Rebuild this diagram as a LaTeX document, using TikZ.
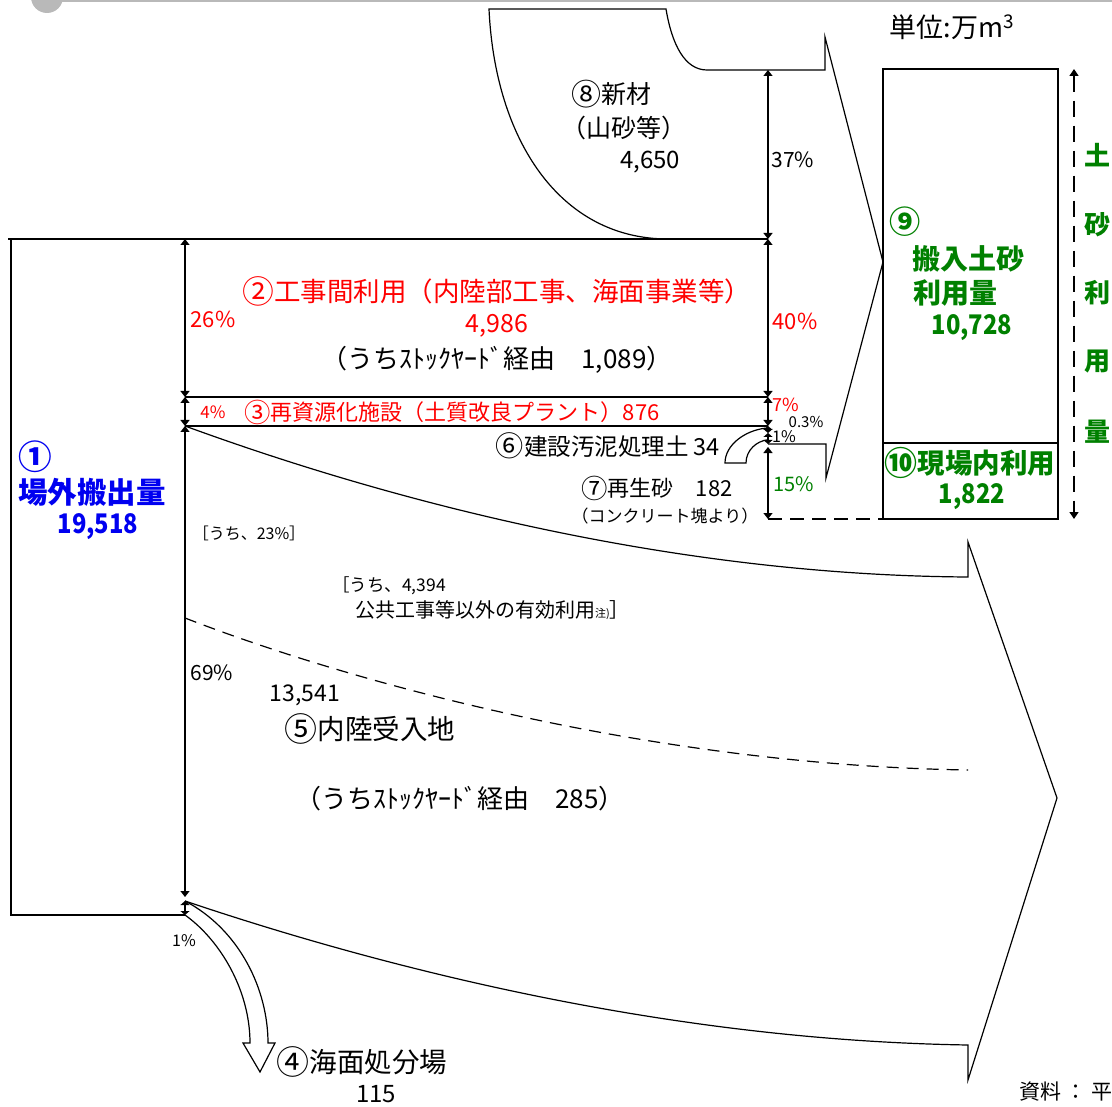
\documentclass[tikz,border=0pt]{standalone}
\usepackage{fontspec}
\usepackage{graphicx}
\setmainfont{Noto Sans CJK JP}
\usetikzlibrary{arrows.meta}
\definecolor{jred}{RGB}{255,0,0}
\definecolor{jblue}{RGB}{0,0,240}
\definecolor{jgreen}{RGB}{0,128,0}
\definecolor{jgray}{RGB}{185,185,185}
\newcommand\fsz[1]{\fontsize{#1}{#1}\selectfont}
\newcommand\cnum[1]{\raisebox{-0.07em}{\scalebox{1.2}{#1}}}
\newcommand\bnum[1]{\scalebox{0.88}[1]{#1}}
\tikzset{
  ln/.style={line width=1.2pt, line join=miter},
  dim/.style={line width=1.2pt, {Triangle[width=9pt,length=6pt]}-{Triangle[width=9pt,length=6pt]}},
  dimsm/.style={line width=1.2pt, {Triangle[width=9pt,length=4pt]}-{Triangle[width=9pt,length=4pt]}},
  dsh/.style={line width=1.4pt, dash pattern=on 14pt off 8pt},
  lbl/.style={inner sep=0pt, outer sep=0pt},
}
\begin{document}
\begin{tikzpicture}[x=1pt,y=-1pt]
\useasboundingbox (0,0) rectangle (1112,1107);
% decoration at top
\fill[jgray] (47,-3) circle (16);
\draw[jgray, line width=3pt] (60,1) -- (1112,1);
% named coordinates
\coordinate (a0) at (185,239);
\coordinate (a1) at (185,397);
\coordinate (a2) at (185,426);
\coordinate (a3) at (185,897);
\coordinate (a4) at (185,901);
\coordinate (a5) at (185,915);
\coordinate (b0) at (768,70);
\coordinate (b1) at (768,239);
\coordinate (b2) at (768,397);
\coordinate (b3) at (768,426);
\coordinate (b4) at (768,433);
\coordinate (b5) at (768,444);
\coordinate (b6) at (768,447);
\coordinate (b7) at (768,519);
\coordinate (c0) at (1074,69);
\coordinate (c1) at (1074,519);
% box 1 (off-site)
\draw[ln] (8,239) -- (b1);
\draw[ln] (11,239) -- (11,915) -- (a5);
% bands 2 and 3
\draw[ln] (a1) -- (b2);
\draw[ln] (a2) -- (b3);
% new material shape (8) and arrow into box 9
\draw[ln] (668,239) .. controls (560,239) and (495,140) .. (489,9) -- (666,9)
  .. controls (672,45) and (685,70) .. (707,70) -- (825,70) -- (825,37)
  -- (883,262) -- (826,478) -- (826,444) -- (b5);
% box 9 / 10
\draw[ln] (883,69) rectangle (1058,519);
\draw[ln] (883,443) -- (1058,443);
\draw[dsh] (b7) -- (883,519);
\draw[dsh, dash pattern=on 16pt off 9pt, {Triangle[width=9pt,length=7pt]}-{Triangle[width=9pt,length=7pt]}] (c0) -- (c1);
% big arrow 5
\draw[ln] (a2) .. controls (360,490) and (650,575) .. (968,577) -- (968,542)
  -- (1057,798) -- (968,1080) -- (968,1045) .. controls (650,1040) and (360,960) .. (a4);
\draw[dsh, line width=1.2pt, dash pattern=on 12pt off 8pt] (185,618) .. controls (350,682) and (650,765) .. (968,770);
% arrow 4 (sea disposal)
\draw[ln] (a4) .. controls (240,930) and (268,990) .. (268,1043) -- (275,1043) -- (260,1072)
  -- (243,1043) -- (250,1043) .. controls (250,990) and (220,940) .. (a5);
% arrow 6 (sludge)
\draw[ln] (767,428) .. controls (745,430) and (725,445) .. (725,463) -- (746,463)
  .. controls (746,450) and (757,441) .. (767,440);
% dimension arrows
\draw[dim] (a0) -- (a1);
\draw[dim] (a1) -- (a2);
\draw[dim] (a2) -- (a3);
\draw[dimsm] (a4) -- (a5);
\draw[dim] (b0) -- (b1);
\draw[dim] (b1) -- (b2);
\draw[dim] (b2) -- (b3);
\draw[dimsm] (b3) -- (b4);
\draw[dimsm] (b4) -- (b5);
\draw[dim] (b6) -- (b7);
% labels
\node[lbl] (unit) at (952,27) {\fsz{27}単位:万m\textsuperscript{3}};
\node[lbl] (n8a) at (611,94) {\fsz{25}\cnum{⑧}新材};
\node[lbl] (n8b) at (624,128) {\fsz{25}（山砂等）};
\node[lbl] (n8c) at (650,162) {\fsz{24}4,650};
\node[lbl] (p37) at (793,160) {\fsz{21}37\%};
\node[lbl, text=jred] (n2a) at (497,291) {\fsz{26.5}\cnum{②}工事間利用（内陸部工事、海面事業等）};
\node[lbl, text=jred] (n2b) at (497,326) {\fsz{25}4,986};
\node[lbl] (n2c) at (497,360) {\fsz{26}（うちｽﾄｯｸﾔｰﾄﾞ経由　1,089）};
\node[lbl, text=jred] (p26) at (213,319) {\fsz{22}26\%};
\node[lbl, text=jred] (p40) at (795,321) {\fsz{22}40\%};
\node[lbl, text=jred] (p4) at (213,412) {\fsz{17}4\%};
\node[lbl, text=jred] (n3) at (452,412) {\fsz{22}\cnum{③}再資源化施設（土質改良プラント）876};
\node[lbl, text=jred] (p7) at (786,405) {\fsz{18}7\%};
\node[lbl] (p03) at (806,422) {\fsz{15}0.3\%};
\node[lbl] (p1a) at (784,437) {\fsz{16}1\%};
\node[lbl] (n6) at (608,446) {\fsz{23.5}\cnum{⑥}建設汚泥処理土 34};
\node[lbl] (n7a) at (657,488) {\fsz{22}\cnum{⑦}再生砂　182};
\node[lbl] (n7b) at (665,516) {\fsz{17}（コンクリート塊より）};
\node[lbl, text=jgreen] (p15) at (794,484) {\fsz{20}15\%};
\node[lbl, text=jblue, font=\bfseries] (n1a) at (35,457) {\fsz{28}\cnum{①}};
\node[lbl, text=jblue, font=\bfseries] (n1b) at (92,492) {\fsz{29.5}場外搬出量};
\node[lbl, text=jblue, font=\bfseries] (n1c) at (98,527) {\fsz{27}\bnum{19,518}};
\node[lbl, text=jgreen, font=\bfseries] (n9a) at (905,222) {\fsz{26}\cnum{⑨}};
\node[lbl, text=jgreen, font=\bfseries] (n9b) at (968,259) {\fsz{28}搬入土砂};
\node[lbl, text=jgreen, font=\bfseries] (n9c) at (955,293) {\fsz{28}利用量};
\node[lbl, text=jgreen, font=\bfseries] (n9d) at (972,328) {\fsz{27}\bnum{10,728}};
\node[lbl, text=jgreen, font=\bfseries] (n10a) at (970,463) {\fsz{27.5}\cnum{⑩}現場内利用};
\node[lbl, text=jgreen, font=\bfseries] (n10b) at (972,497) {\fsz{27}\bnum{1,822}};
\node[lbl, text=jgreen, font=\bfseries] (v1) at (1097,155) {\fsz{26}土};
\node[lbl, text=jgreen, font=\bfseries] (v2) at (1097,225) {\fsz{26}砂};
\node[lbl, text=jgreen, font=\bfseries] (v3) at (1097,293) {\fsz{26}利};
\node[lbl, text=jgreen, font=\bfseries] (v4) at (1097,362) {\fsz{26}用};
\node[lbl, text=jgreen, font=\bfseries] (v5) at (1097,432) {\fsz{26}量};
\node[lbl] (u23) at (249,533) {\fsz{16}［うち、23\%］};
\node[lbl, anchor=west] (u4394a) at (332,586) {\fsz{17.5}［うち、4,394};
\node[lbl, anchor=west] (u4394b) at (355,610) {\fsz{20}公共工事等以外の有効利用{\fsz{11}注)}］};
\node[lbl] (p69) at (212,673) {\fsz{21}69\%};
\node[lbl] (n5a) at (305,695) {\fsz{23}13,541};
\node[lbl] (n5b) at (370,729) {\fsz{27.5}\cnum{⑤}内陸受入地};
\node[lbl] (n5c) at (460,799) {\fsz{26}（うちｽﾄｯｸﾔｰﾄﾞ経由　285）};
\node[lbl] (p1b) at (184,941) {\fsz{16}1\%};
\node[lbl] (n4a) at (362,1062) {\fsz{27.5}\cnum{④}海面処分場};
\node[lbl] (n4b) at (376,1094) {\fsz{24}115};
\node[lbl, anchor=west] (src) at (1019,1092) {\fsz{21}資料 ： 平};
\end{tikzpicture}
\end{document}
